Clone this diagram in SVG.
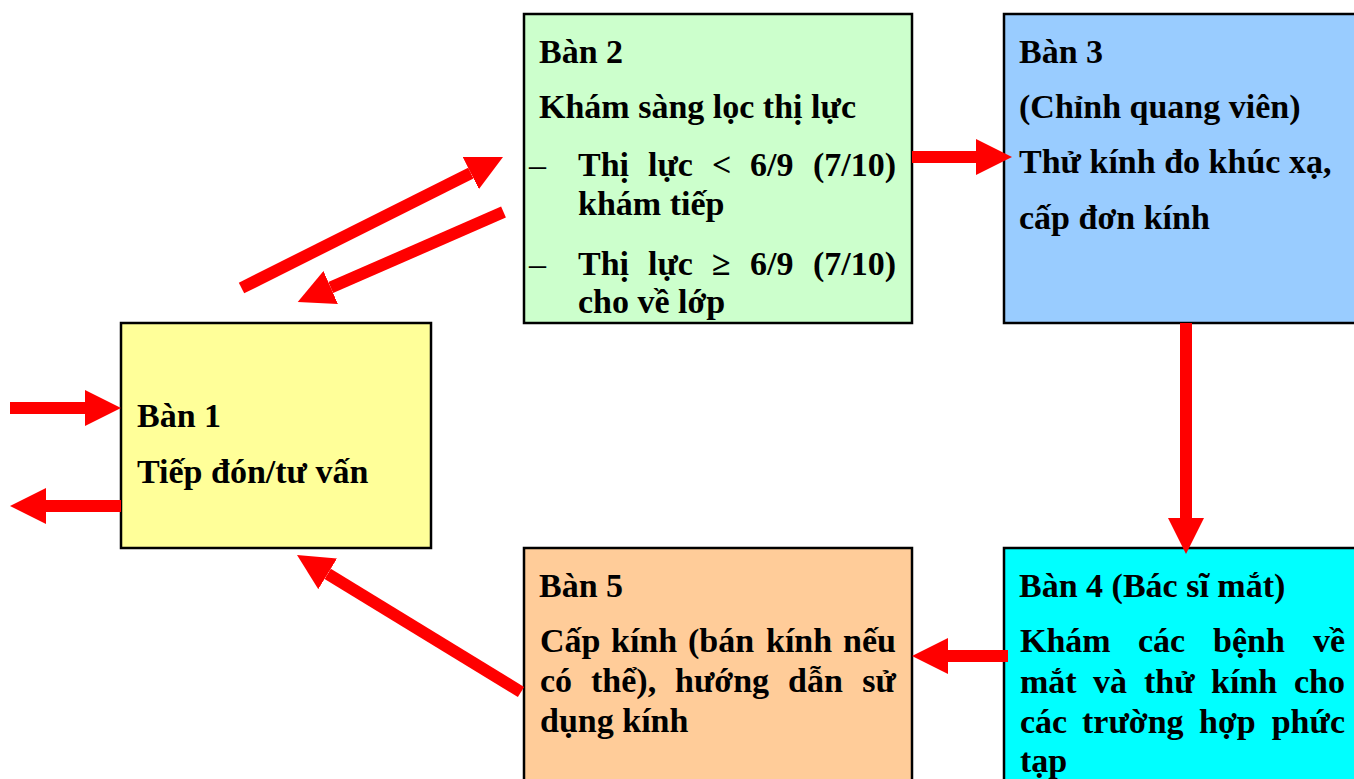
<svg xmlns="http://www.w3.org/2000/svg" width="1354" height="779" viewBox="0 0 1354 779">
<style>
.box{stroke:#000;stroke-width:2.5}
.t{font-family:"Liberation Serif","Times New Roman",serif;font-weight:bold;font-size:34px;fill:#000}
.e{text-anchor:end}
.d{font-weight:normal}
.arr{stroke:#FF0000;stroke-width:12;fill:none;stroke-linecap:butt;marker-end:url(#head)}
</style>
<defs>
<marker id="head" viewBox="0 0 3 3" markerWidth="3" markerHeight="3" refX="0" refY="1.5" orient="auto" markerUnits="strokeWidth">
<path d="M0,0 L3,1.5 L0,3 z" fill="#FF0000"/>
</marker>
</defs>
<rect width="1354" height="779" fill="#fff"/>
<g id="ban1">
<rect class="box" x="121" y="323" width="310" height="225" fill="#FFFF99"/>
<text class="t" x="137" y="427">Bàn 1</text>
<text class="t" x="137" y="483">Tiếp đón/tư vấn</text>
</g>
<g id="ban2">
<rect class="box" x="524" y="14" width="388" height="309" fill="#CCFFCC"/>
<text class="t" x="539" y="63">Bàn 2</text>
<text class="t" x="539" y="118">Khám sàng lọc thị lực</text>
<text class="t" y="176"><tspan x="529" class="d">–</tspan><tspan x="578">Thị</tspan><tspan x="648">lực</tspan><tspan x="712">&lt;</tspan><tspan x="750">6/9</tspan><tspan x="896" class="e">(7/10)</tspan></text>
<text class="t" x="578" y="215">khám tiếp</text>
<text class="t" y="275"><tspan x="529" class="d">–</tspan><tspan x="578">Thị</tspan><tspan x="648">lực</tspan><tspan x="712">≥</tspan><tspan x="750">6/9</tspan><tspan x="896" class="e">(7/10)</tspan></text>
<text class="t" x="578" y="313">cho về lớp</text>
</g>
<g id="ban3">
<rect class="box" x="1004" y="14" width="360" height="309" fill="#99CCFF"/>
<text class="t" x="1019" y="63">Bàn 3</text>
<text class="t" x="1019" y="118">(Chỉnh quang viên)</text>
<text class="t" x="1019" y="173">Thử kính đo khúc xạ,</text>
<text class="t" x="1019" y="229">cấp đơn kính</text>
</g>
<g id="ban4">
<rect class="box" x="1004" y="548" width="360" height="260" fill="#00FFFF"/>
<text class="t" x="1019" y="597">Bàn 4 (Bác sĩ mắt)</text>
<text class="t" y="652"><tspan x="1020">Khám</tspan><tspan x="1138">các</tspan><tspan x="1213">bệnh</tspan><tspan x="1345" class="e">về</tspan></text>
<text class="t" y="693"><tspan x="1020">mắt</tspan><tspan x="1093">và</tspan><tspan x="1144">thử</tspan><tspan x="1211">kính</tspan><tspan x="1345" class="e">cho</tspan></text>
<text class="t" y="733"><tspan x="1020">các</tspan><tspan x="1082">trường</tspan><tspan x="1199">hợp</tspan><tspan x="1345" class="e">phức</tspan></text>
<text class="t" x="1020" y="772">tạp</text>
</g>
<g id="ban5">
<rect class="box" x="524" y="548" width="388" height="260" fill="#FFCC99"/>
<text class="t" x="539" y="597">Bàn 5</text>
<text class="t" y="652"><tspan x="540">Cấp</tspan><tspan x="611">kính</tspan><tspan x="688">(bán</tspan><tspan x="766">kính</tspan><tspan x="896" class="e">nếu</tspan></text>
<text class="t" y="692"><tspan x="540">có</tspan><tspan x="591">thể),</tspan><tspan x="675">hướng</tspan><tspan x="788">dẫn</tspan><tspan x="896" class="e">sử</tspan></text>
<text class="t" x="540" y="732">dụng kính</text>
</g>
<g id="connectors">
<line class="arr" x1="10" y1="408" x2="85" y2="408"/>
<line class="arr" x1="121" y1="506" x2="46" y2="506"/>
<line class="arr" x1="241.5" y1="288" x2="470.8" y2="173.1"/>
<line class="arr" x1="503.5" y1="212" x2="330.7" y2="287.6"/>
<line class="arr" x1="912" y1="157" x2="976" y2="157"/>
<line class="arr" x1="1186" y1="323" x2="1186" y2="518"/>
<line class="arr" x1="1008" y1="656" x2="948" y2="656"/>
<line class="arr" x1="521" y1="692" x2="327.7" y2="573.8"/>
</g>
</svg>
